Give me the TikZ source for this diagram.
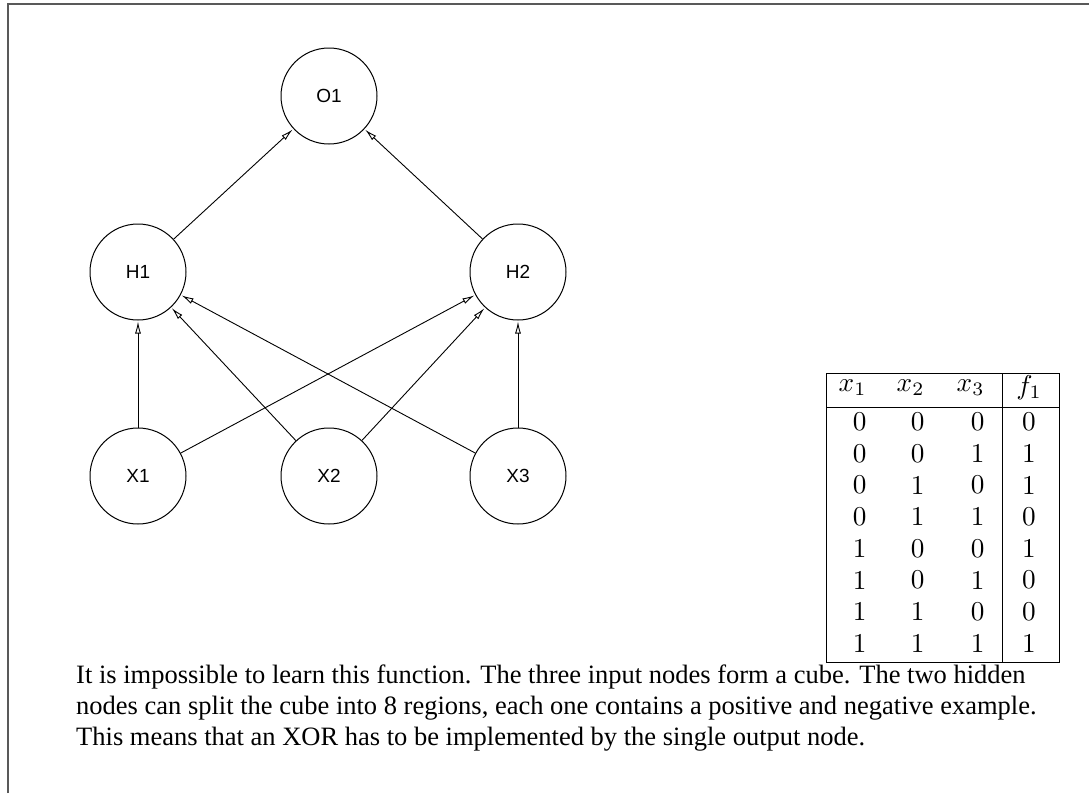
\documentclass[tikz,border=0pt]{standalone}
\usepackage{fontspec}
\newfontfamily\nlabfont{Liberation Sans}
\newfontfamily\captfont{Liberation Serif}
\usetikzlibrary{arrows.meta}
\begin{document}
\begin{tikzpicture}[x=1pt,y=-1pt,
  neuron/.style={circle, draw, line width=1pt, minimum size=96pt, inner sep=0pt, font=\nlabfont\fontsize{19}{22}\selectfont},
  conn/.style={-{Latex[open,length=12pt,width=6pt]}, line width=0.9pt, shorten >=1pt},
  tab/.style={font=\fontsize{10}{12}\selectfont, inner sep=0pt, scale=2.72},
  tline/.style={line width=1pt},
  capt/.style={anchor=base west, inner sep=0pt, font=\captfont\fontsize{26.5}{30}\selectfont}]
\useasboundingbox (0,0) rectangle (1089,793);
\draw[line width=1.6pt, black!65] (8,793) -- (8,4) -- (1089,4);
% neurons
\node[neuron] (O1) at (329,96) {O1};
\node[neuron] (H1) at (138,272) {H1};
\node[neuron] (H2) at (518,272) {H2};
\node[neuron] (X1) at (138,476) {X1};
\node[neuron] (X2) at (329,476) {X2};
\node[neuron] (X3) at (518,476) {X3};
\draw[conn] (X1) -- (H1);
\draw[conn] (X1) -- (H2);
\draw[conn] (X2) -- (H1);
\draw[conn] (X2) -- (H2);
\draw[conn] (X3) -- (H1);
\draw[conn] (X3) -- (H2);
\draw[conn] (H1) -- (O1);
\draw[conn] (H2) -- (O1);
% table
\coordinate (tl) at (826,373);
\coordinate (tr) at (1059,373);
\coordinate (bl) at (826,662);
\coordinate (br) at (1059,662);
\coordinate (hl) at (826,407);
\coordinate (hr) at (1059,407);
\coordinate (dt) at (1002,373);
\coordinate (db) at (1002,662);
\draw[tline] (tl) -- (tr) -- (br) -- (bl) -- cycle;
\draw[tline] (hl) -- (hr);
\draw[tline] (dt) -- (db);
\node[tab, anchor=east] (hx1) at (867,388) {$x_1$};
\node[tab, anchor=east] (hx2) at (925,388) {$x_2$};
\node[tab, anchor=east] (hx3) at (985,388) {$x_3$};
\node[tab] (hf1) at (1029,388) {$f_1$};
\foreach \a/\b/\c/\f [count=\i from 0] in {0/0/0/0,0/0/1/1,0/1/0/1,0/1/1/0,1/0/0/1,1/0/1/0,1/1/0/0,1/1/1/1}{
  \node[tab, anchor=east] (ra\i) at (867,422+31.6*\i) {\a};
  \node[tab, anchor=east] (rb\i) at (925,422+31.6*\i) {\b};
  \node[tab, anchor=east] (rc\i) at (985,422+31.6*\i) {\c};
  \node[tab] (rf\i) at (1029,422+31.6*\i) {\f};
}
% caption
\node[capt] (l1) at (76,683) {It is impossible to learn this function. The three input nodes form a cube. The two hidden};
\node[capt] (l2) at (76,714) {nodes can split the cube into 8 regions, each one contains a positive and negative example.};
\node[capt] (l3) at (76,745) {This means that an XOR has to be implemented by the single output node.};
\end{tikzpicture}
\end{document}
